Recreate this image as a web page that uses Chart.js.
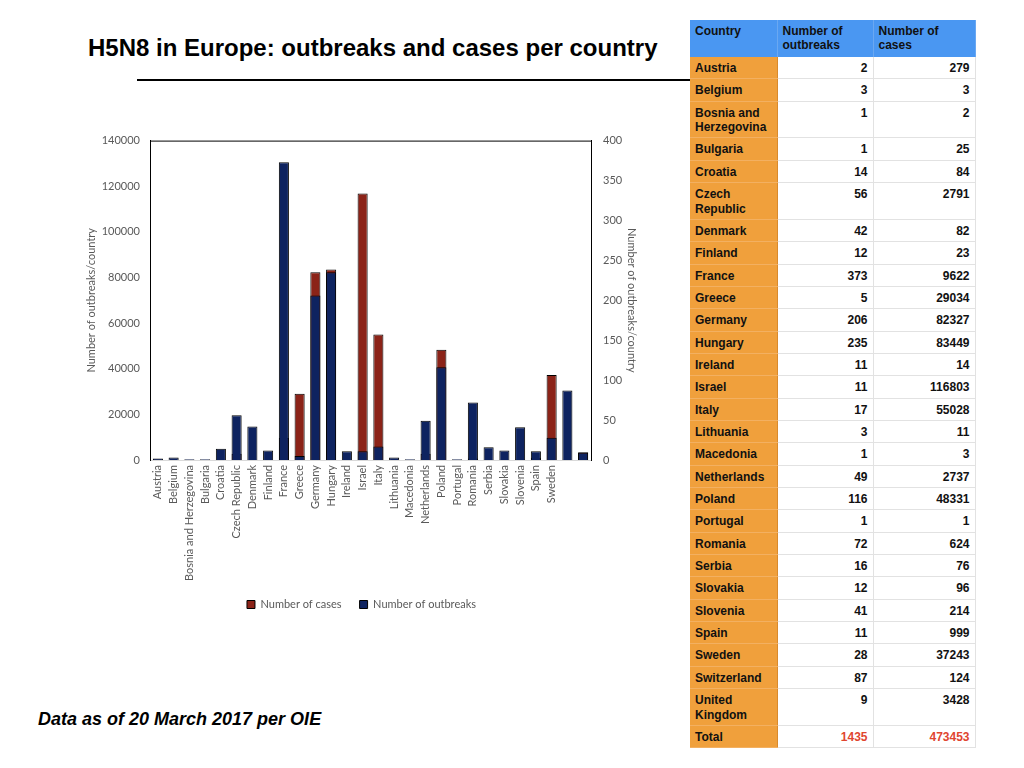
<!DOCTYPE html>
<html>
<head>
<meta charset="utf-8">
<script src="https://cdn.jsdelivr.net/npm/chart.js@4.4.1/dist/chart.umd.min.js"></script>
<style>
  html, body { margin: 0; padding: 0; background: #fff; }
  body { width: 1024px; height: 768px; position: relative; overflow: hidden; font-family: "Liberation Sans", Arial, sans-serif; }
  #title { position: absolute; left: 88px; top: 34px; font-size: 24px; font-weight: bold; color: #000; white-space: nowrap; }
  #rule { position: absolute; left: 137px; top: 79px; width: 553px; height: 2px; background: #000; }
  #note { position: absolute; left: 38px; top: 709px; font-size: 18px; font-weight: bold; font-style: italic; color: #000; white-space: nowrap; }
  #chartWrap { position: absolute; left: 81px; top: 122px; line-height: 0; }
  #tbl { position: absolute; left: 690px; top: 20px; border-collapse: collapse; table-layout: fixed; width: 285px; font-size: 12px; font-weight: bold; color: #111; }
  #tbl td, #tbl th { padding: 4px 5px 2.95px 5px; line-height: 14.4px; vertical-align: top; }
  #tbl th { background: #4A97F2; text-align: left; font-weight: bold; padding-top: 4px; padding-bottom: 4.2px; border-right: 1px solid #6aa8f2; }
  #tbl td.c { background: #F0A03C; border-bottom: 1px solid #f3b061; border-right: 1px solid #d98a2c; }
  #tbl td.n { text-align: right; border-bottom: 1px solid #e2e2e2; border-right: 1px solid #e2e2e2; background: #fff; }
  #tbl tr.total td.n { color: #E0452F; }
</style>
</head>
<body>
<div id="title">H5N8 in Europe: outbreaks and cases per country</div>
<div id="rule"></div>
<div id="chartWrap"><canvas id="chart" width="561" height="498"></canvas></div>
<table id="tbl"><colgroup><col style="width:87px"><col style="width:96px"><col style="width:102px"></colgroup><tbody id="tbody"></tbody></table>
<div id="note">Data as of 20 March 2017 per OIE</div>
<script>
// ---- data ----
const countries = ["Austria","Belgium","Bosnia and Herzegovina","Bulgaria","Croatia","Czech Republic","Denmark","Finland","France","Greece","Germany","Hungary","Ireland","Israel","Italy","Lithuania","Macedonia","Netherlands","Poland","Portugal","Romania","Serbia","Slovakia","Slovenia","Spain","Sweden","Switzerland","United Kingdom"];
const outbreaks = [2,3,1,1,14,56,42,12,373,5,206,235,11,11,17,3,1,49,116,1,72,16,12,41,11,28,87,9];
const cases = [279,3,2,25,84,2791,82,23,9622,29034,82327,83449,14,116803,55028,11,3,2737,48331,1,624,76,96,214,999,37243,124,3428];
const xTickLabels = ["Austria","Belgium","Bosnia and Herzegovina","Bulgaria","Croatia","Czech Republic","Denmark","Finland","France","Greece","Germany","Hungary","Ireland","Israel","Italy","Lithuania","Macedonia","Netherlands","Poland","Portugal","Romania","Serbia","Slovakia","Slovenia","Spain","Sweden","",""];
const tableHeaders = ["Country","Number of outbreaks","Number of cases"];
const totalLabel = "Total";
const totalOutbreaks = 1435;
const totalCases = 473453;
const leftTicks = {min: 0, max: 140000, step: 20000};
const rightTicks = {min: 0, max: 400, step: 50};
const axisTitle = "Number of outbreaks/country";
const seriesNames = ["Number of cases", "Number of outbreaks"];

// ---- table ----
const tbody = document.getElementById('tbody');
let html = '<tr>' + tableHeaders.map(h => '<th>' + h + '</th>').join('') + '</tr>';
countries.forEach((c, i) => {
  html += '<tr><td class="c">' + c + '</td><td class="n">' + outbreaks[i] + '</td><td class="n">' + cases[i] + '</td></tr>';
});
html += '<tr class="total"><td class="c">' + totalLabel + '</td><td class="n">' + totalOutbreaks + '</td><td class="n">' + totalCases + '</td></tr>';
tbody.innerHTML = html;

// ---- chart ----
const gray = '#595959';
const tickFont = {family: 'Lato', size: 11};
const topBorder = {
  id: 'topBorder',
  beforeDatasetsDraw(chart) {
    const {ctx, chartArea} = chart;
    ctx.save();
    ctx.strokeStyle = '#000';
    ctx.lineWidth = 1;
    ctx.beginPath();
    ctx.moveTo(chartArea.left, chartArea.top + 0.5);
    ctx.lineTo(chartArea.right, chartArea.top + 0.5);
    ctx.stroke();
    ctx.restore();
  }
};
new Chart(document.getElementById('chart'), {
  type: 'bar',
  data: {
    labels: countries,
    datasets: [
      {label: seriesNames[0], data: cases, yAxisID: 'y', backgroundColor: '#8B2318', borderColor: '#000', borderWidth: 1, grouped: false, order: 1, categoryPercentage: 1, barPercentage: 0.64},
      {label: seriesNames[1], data: outbreaks, yAxisID: 'y1', backgroundColor: '#0E2360', borderColor: '#000', borderWidth: 1, grouped: false, order: 0, categoryPercentage: 1, barPercentage: 0.64}
    ]
  },
  options: {
    responsive: false,
    animation: false,
    devicePixelRatio: 1,
    layout: {padding: {top: 15, left: 0, right: 0, bottom: 0}},
    plugins: {
      legend: {
        position: 'bottom',
        labels: {
          boxWidth: 8, boxHeight: 8, padding: 18, color: gray, font: tickFont,
          sort: (a, b) => a.datasetIndex - b.datasetIndex
        }
      },
      tooltip: {enabled: false}
    },
    scales: {
      x: {
        grid: {display: false, drawTicks: false},
        border: {color: '#D9D9D9', width: 1},
        ticks: {
          autoSkip: false, maxRotation: 90, minRotation: 90, padding: 5,
          color: gray, font: tickFont,
          callback: (v, i) => xTickLabels[i]
        },
        afterFit: s => { s.height = 121; }
      },
      y: {
        position: 'left',
        min: leftTicks.min, max: leftTicks.max,
        grid: {display: false, drawTicks: false},
        border: {color: '#000', width: 1},
        ticks: {stepSize: leftTicks.step, padding: 10, color: gray, font: tickFont, callback: v => String(v)},
        title: {display: true, text: axisTitle, color: gray, font: tickFont},
        afterFit: s => { s.width = 69; }
      },
      y1: {
        position: 'right',
        min: rightTicks.min, max: rightTicks.max,
        grid: {display: false, drawTicks: false},
        border: {color: '#000', width: 1},
        ticks: {stepSize: rightTicks.step, padding: 12, color: gray, font: tickFont, callback: v => String(v)},
        title: {display: true, text: axisTitle, color: gray, font: tickFont},
        afterFit: s => { s.width = 51; }
      }
    }
  },
  plugins: [topBorder]
});
</script>
</body>
</html>
